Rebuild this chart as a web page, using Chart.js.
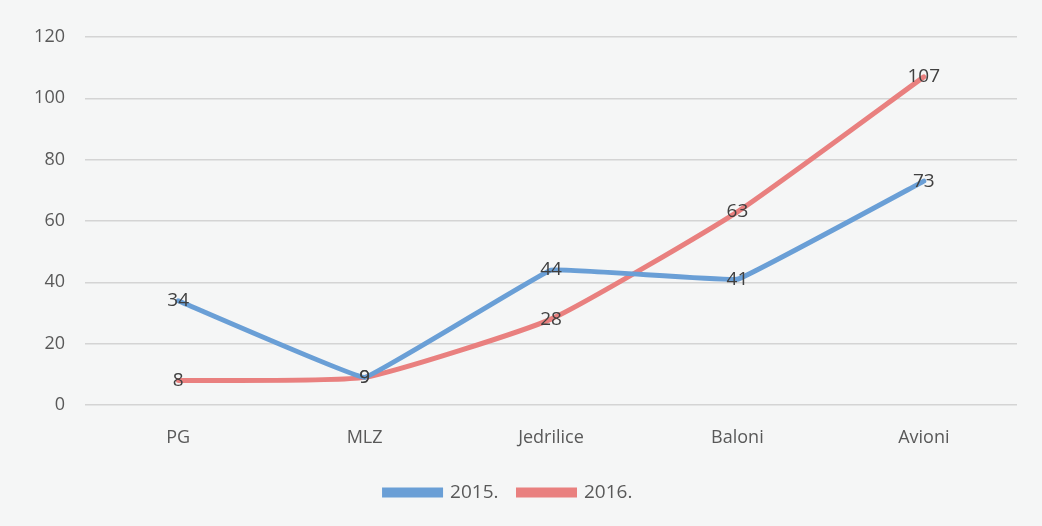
<!DOCTYPE html>
<html>
<head>
<meta charset="utf-8">
<script src="https://cdn.jsdelivr.net/npm/chart.js@4"></script>
<style>
  html, body { margin: 0; padding: 0; background: #f5f6f6; }
  #wrap { width: 1042px; height: 526px; }
</style>
</head>
<body>
<div id="wrap"><canvas id="grafico"></canvas></div>
<script>
var kategorije = ['PG', 'MLZ', 'Jedrilice', 'Baloni', 'Avioni'];
var godina2015 = [34, 9, 44, 41, 73];
var godina2016 = [8, 9, 28, 63, 107];
var oznakeY = [0, 20, 40, 60, 80, 100, 120];

// labels drawn centred on each point, like the Excel data labels
var oznakePodataka = {
    id: 'oznakePodataka',
    afterDatasetsDraw: function(chart) {
        var ctx = chart.ctx;
        ctx.save();
        ctx.font = '19px "Open Sans", sans-serif';
        ctx.fillStyle = '#404040';
        ctx.textAlign = 'center';
        ctx.textBaseline = 'middle';
        chart.data.datasets.forEach(function(ds, i) {
            chart.getDatasetMeta(i).data.forEach(function(pt, j) {
                ctx.fillText(ds.data[j], pt.x, pt.y);
            });
        });
        ctx.restore();
    }
};

var ctx = document.getElementById('grafico').getContext('2d');
var grafikon = new Chart(ctx, {
    type: 'line',
    data: {
        labels: kategorije,
        datasets: [{
            label: '2015.',
            data: godina2015,
            borderColor: '#6a9fd6',
            backgroundColor: '#6a9fd6',
            borderWidth: 5,
            borderCapStyle: 'round',
            pointRadius: 0,
            tension: 0.05,
            fill: false
        }, {
            label: '2016.',
            data: godina2016,
            borderColor: '#e9807f',
            backgroundColor: '#e9807f',
            borderWidth: 5,
            borderCapStyle: 'round',
            pointRadius: 0,
            tension: 0.15,
            fill: false
        }]
    },
    options: {
        responsive: true,
        maintainAspectRatio: false,
        animation: false,
        layout: { padding: { top: 37, right: 25, bottom: 14, left: 0 } },
        plugins: {
            tooltip: { enabled: false },
            legend: {
                position: 'bottom',
                labels: {
                    color: '#595959',
                    font: { family: '"Open Sans", sans-serif', size: 19 },
                    boxWidth: 56,
                    boxHeight: 5,
                    padding: 20
                }
            }
        },
        scales: {
            x: {
                offset: true,
                grid: { display: false },
                border: { display: false },
                ticks: {
                    color: '#595959',
                    font: { family: '"Open Sans", sans-serif', size: 18 },
                    padding: 14
                },
                afterFit: function(scale) { scale.height = 58; }
            },
            y: {
                min: 0,
                max: 120,
                afterBuildTicks: function(scale) {
                    scale.ticks = oznakeY.map(function(v) { return { value: v }; });
                },
                grid: { color: '#d4d4d4', lineWidth: 1.5, drawTicks: false },
                border: { display: false },
                ticks: {
                    color: '#595959',
                    font: { family: '"Open Sans", sans-serif', size: 18 },
                    padding: 20
                },
                afterFit: function(scale) { scale.width = 85; }
            }
        }
    },
    plugins: [oznakePodataka]
});
</script>
</body>
</html>
